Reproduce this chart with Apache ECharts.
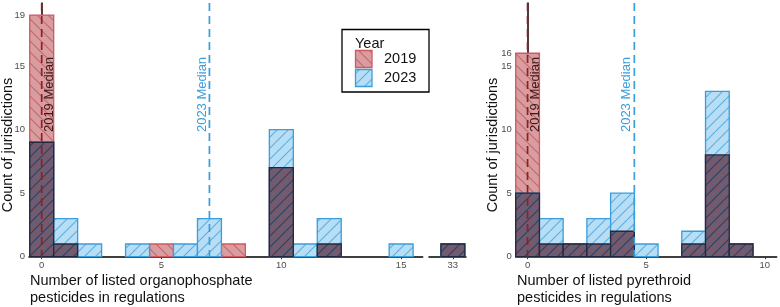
<!DOCTYPE html>
<html>
<head>
<meta charset="utf-8">
<script src="https://cdn.jsdelivr.net/npm/echarts@6/dist/echarts.min.js"></script>
<style>
  html, body { margin: 0; padding: 0; background: #fff; }
  #chart { width: 780px; height: 307px; }
</style>
</head>
<body>
<div id="chart"></div>
<script>
// organophosphate panel (left); bin 33 sits on the broken part of the axis
const opBins = [0, 1, 2, 4, 5, 6, 7, 8, 10, 11, 12, 15, 33];
const op2019 = [19, 1, 0, 0, 1, 0, 0, 1, 7, 0, 1, 0, 1];
const op2023 = [9, 3, 1, 1, 0, 1, 3, 0, 10, 1, 3, 1, 1];
// pyrethroid panel (right)
const pyBins = [0, 1, 2, 3, 4, 5, 7, 8, 9];
const py2019 = [16, 1, 1, 1, 2, 0, 1, 8, 1];
const py2023 = [5, 3, 1, 3, 5, 1, 2, 13, 1];
// medians per year
const years = ['2019', '2023'];
const opMedian = [0, 7];
const pyMedian = [0, 4.5];
// tick labels
const opTicks = [0, 5, 10, 15];
const opBreakTicks = [33];
const pyTicks = [0, 5, 10];
const opCountTicks = [0, 5, 10, 15, 19];
const pyCountTicks = [0, 5, 10, 15, 16];

const FONT = '"Liberation Sans", Arial, sans-serif';
const YMAX = 19.95;

// hatch pattern canvas: bg colour + diagonal lines
function makePattern(bg, lines) {
  const s = 11;
  const c = document.createElement('canvas');
  c.width = s; c.height = s;
  const ctx = c.getContext('2d');
  ctx.fillStyle = bg;
  ctx.fillRect(0, 0, s, s);
  ctx.lineWidth = 1.1;
  lines.forEach(function (l) {
    ctx.strokeStyle = l.color;
    for (let k = -1; k <= 1; k++) {
      ctx.beginPath();
      if (l.dir === 'back') { // "\"
        ctx.moveTo(k * s, 0); ctx.lineTo(k * s + s, s);
      } else {                // "/"
        ctx.moveTo(k * s, s); ctx.lineTo(k * s + s, 0);
      }
      ctx.stroke();
    }
  });
  return { image: c, repeat: 'repeat' };
}

const redFill = makePattern('#d99da0', [{ dir: 'back', color: '#c4666d' }]);
const blueFill = makePattern('#b8def5', [{ dir: 'fwd', color: '#5aaee3' }]);
const bothFill = makePattern('#6d5d70', [
  { dir: 'back', color: '#8c4f62' },
  { dir: 'fwd', color: '#2f3f66' }
]);

const styles = {
  red: { fill: redFill, stroke: '#cf5a60' },
  blue: { fill: blueFill, stroke: '#3a9ddc' },
  both: { fill: bothFill, stroke: '#1f2a40' }
};

function binData(bins, vals, keep) {
  const out = [];
  bins.forEach(function (b, i) {
    if (keep(b) && vals[i] > 0) out.push([b, vals[i]]);
  });
  return out;
}
function minOf(a, b) { return a.map(function (v, i) { return Math.min(v, b[i]); }); }

function barSeries(idx, data, st) {
  return {
    type: 'custom',
    xAxisIndex: idx, yAxisIndex: idx,
    data: data,
    renderItem: function (params, api) {
      const x = api.value(0), v = api.value(1);
      const p0 = api.coord([x - 0.5, v]);
      const p1 = api.coord([x + 0.5, 0]);
      return {
        type: 'rect',
        shape: { x: p0[0], y: p0[1], width: p1[0] - p0[0], height: p1[1] - p0[1] },
        style: { fill: st.fill, stroke: st.stroke, lineWidth: 1.3 }
      };
    },
    silent: true
  };
}

function medianSeries(idx, medians) {
  return {
    type: 'custom',
    xAxisIndex: idx, yAxisIndex: idx,
    data: medians.map(function (m, i) { return [m, i]; }),
    z: 10,
    renderItem: function (params, api) {
      const m = api.value(0), yi = api.value(1);
      const top = api.coord([m, YMAX]);
      const bot = api.coord([m, 0]);
      const lab = api.coord([m, 9.8]);
      const col = yi === 0 ? '#8e1f24' : '#3a9ddc';
      const txtCol = yi === 0 ? '#3d1a1c' : '#3a9ddc';
      return {
        type: 'group',
        children: [
          {
            type: 'line',
            shape: { x1: top[0], y1: top[1], x2: bot[0], y2: bot[1] },
            style: { stroke: col, lineWidth: 1.7, lineDash: [8, 5] }
          },
          {
            type: 'text',
            x: yi === 0 ? lab[0] + 1.5 : lab[0] - 1,
            y: lab[1],
            rotation: Math.PI / 2,
            style: {
              text: years[yi] + ' Median',
              fill: txtCol,
              font: '13px ' + FONT,
              align: 'left',
              verticalAlign: yi === 0 ? 'top' : 'bottom'
            }
          }
        ]
      };
    },
    silent: true
  };
}

const axisLabelStyle = { color: '#4d4d4d', fontSize: 9.5, fontFamily: FONT };
const axisLineStyle = { show: true, lineStyle: { color: '#000', width: 1.5 } };

function xAx(grid, min, max, ticks) {
  return {
    type: 'value', gridIndex: grid, min: min, max: max,
    splitLine: { show: false },
    axisLine: axisLineStyle,
    axisTick: { show: true, length: 2.5, customValues: ticks, lineStyle: { color: '#333' } },
    axisLabel: Object.assign({ customValues: ticks, margin: 4 }, axisLabelStyle)
  };
}
function yAx(grid, ticks, show) {
  return {
    type: 'value', gridIndex: grid, min: 0, max: YMAX, show: show,
    splitLine: { show: false },
    axisLine: axisLineStyle,
    axisTick: { show: true, length: 2.5, customValues: ticks, lineStyle: { color: '#333' } },
    axisLabel: Object.assign({ customValues: ticks, margin: 4 }, axisLabelStyle)
  };
}

const isMain = function (b) { return b < 30; };
const isBreak = function (b) { return b >= 30; };
const allBins = function () { return true; };

const opBoth = minOf(op2019, op2023);
const pyBoth = minOf(py2019, py2023);

const titleStyle = { fill: '#111', font: '14.5px ' + FONT };

const option = {
  animation: false,
  grid: [
    { left: 29, right: 357.3, top: 3, bottom: 50.3 },
    { left: 429, right: 314, top: 3, bottom: 50.3 },
    { left: 515.7, right: 3.3, top: 3, bottom: 50.3 }
  ],
  xAxis: [
    xAx(0, -0.53, 15.9, opTicks),
    xAx(1, 32, 33.55, opBreakTicks),
    xAx(2, -0.5, 10.5, pyTicks)
  ],
  yAxis: [
    yAx(0, opCountTicks, true),
    yAx(1, [], false),
    yAx(2, pyCountTicks, true)
  ],
  series: [
    barSeries(0, binData(opBins, op2019, isMain), styles.red),
    barSeries(0, binData(opBins, op2023, isMain), styles.blue),
    barSeries(0, binData(opBins, opBoth, isMain), styles.both),
    barSeries(1, binData(opBins, op2019, isBreak), styles.red),
    barSeries(1, binData(opBins, op2023, isBreak), styles.blue),
    barSeries(1, binData(opBins, opBoth, isBreak), styles.both),
    barSeries(2, binData(pyBins, py2019, allBins), styles.red),
    barSeries(2, binData(pyBins, py2023, allBins), styles.blue),
    barSeries(2, binData(pyBins, pyBoth, allBins), styles.both),
    medianSeries(0, opMedian),
    medianSeries(2, pyMedian)
  ],
  graphic: [
    // axis titles
    { type: 'text', x: 8, y: 145, rotation: Math.PI / 2,
      style: Object.assign({ text: 'Count of jurisdictions', align: 'center', verticalAlign: 'middle' }, titleStyle) },
    { type: 'text', x: 493, y: 145, rotation: Math.PI / 2,
      style: Object.assign({ text: 'Count of jurisdictions', align: 'center', verticalAlign: 'middle' }, titleStyle) },
    { type: 'text', x: 30, y: 272,
      style: Object.assign({ text: 'Number of listed organophosphate\npesticides in regulations', lineHeight: 17, align: 'left', verticalAlign: 'top' }, titleStyle) },
    { type: 'text', x: 517, y: 272,
      style: Object.assign({ text: 'Number of listed pyrethroid\npesticides in regulations', lineHeight: 17, align: 'left', verticalAlign: 'top' }, titleStyle) },
    // legend
    { type: 'rect', shape: { x: 342, y: 29.5, width: 87, height: 62.5 },
      style: { fill: '#fff', stroke: '#000', lineWidth: 1.3 }, z: 100 },
    { type: 'text', x: 355, y: 43.5, z: 101,
      style: Object.assign({ text: 'Year', align: 'left', verticalAlign: 'middle' }, titleStyle) },
    { type: 'rect', shape: { x: 355.5, y: 50.5, width: 16.5, height: 17 }, z: 101,
      style: { fill: redFill, stroke: styles.red.stroke, lineWidth: 1.3 } },
    { type: 'rect', shape: { x: 355.5, y: 69.5, width: 16.5, height: 17 }, z: 101,
      style: { fill: blueFill, stroke: styles.blue.stroke, lineWidth: 1.3 } },
    { type: 'text', x: 384, y: 59, z: 101,
      style: Object.assign({ text: years[0], align: 'left', verticalAlign: 'middle' }, titleStyle) },
    { type: 'text', x: 384, y: 78, z: 101,
      style: Object.assign({ text: years[1], align: 'left', verticalAlign: 'middle' }, titleStyle) }
  ]
};

const chart = echarts.init(document.getElementById('chart'), null, { renderer: 'canvas' });
chart.setOption(option);
window.addEventListener('resize', function () { chart.resize(); });
</script>
</body>
</html>
